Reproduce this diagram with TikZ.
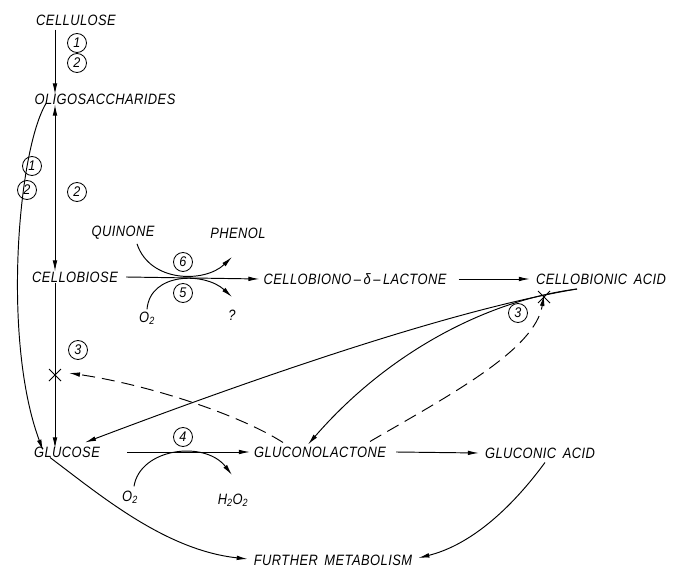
\documentclass[tikz,border=0pt]{standalone}
\usepackage{fontspec}
\setmainfont{Liberation Sans}
\newfontfamily\lettering{Liberation Sans}[FakeStretch=0.86, LetterSpace=3]
\newfontfamily\digits{Liberation Sans}[FakeStretch=0.9]
\usetikzlibrary{arrows.meta}
\begin{document}
\begin{tikzpicture}[x=1pt,y=-1pt,
  lbl/.style={font=\lettering\fontsize{15}{17}\selectfont\itshape, inner sep=2pt},
  num/.style={draw, circle, line width=0.8pt, minimum size=19pt, inner sep=0pt, font=\digits\fontsize{14}{14}\selectfont\itshape},
  ln/.style={line width=0.95pt},
  arr/.style={ln, -{Latex[length=11pt,width=4.6pt]}},
  darr/.style={ln, {Latex[length=11pt,width=4.6pt]}-{Latex[length=11pt,width=4.6pt]}},
  dsh/.style={arr, dash pattern=on 13pt off 7pt}]
\useasboundingbox (0,0) rectangle (681,567);
% nodes
\node[lbl] (cellulose) at (76,20) {CELLULOSE};
\node[lbl] (oligo) at (105,99) {OLIGOSACCHARIDES};
\node[lbl] (cellobiose) at (75,277) {CELLOBIOSE};
\node[lbl] (lactone) at (355,279) {CELLOBIONO\,–\,δ\,–\,LACTONE};
\node[lbl] (cbacid) at (601,279) {CELLOBIONIC\, ACID};
\node[lbl] (glucose) at (67,452) {GLUCOSE};
\node[lbl] (gluconolactone) at (320,452) {GLUCONOLACTONE};
\node[lbl] (gluconic) at (540,453) {GLUCONIC\, ACID};
\node[lbl] (further) at (333,560) {FURTHER\, METABOLISM};
\node[lbl] (quinone) at (123,233) {QUINONE};
\node[lbl] (phenol) at (238,233) {PHENOL};
\node[lbl] (oxa) at (147,318) {O\textsubscript{2}};
\node[lbl] (qm) at (232,315) {?};
\node[lbl] (oxb) at (130,497) {O\textsubscript{2}};
\node[lbl] (hp) at (233,500) {H\textsubscript{2}O\textsubscript{2}};
% numbered circles
\node[num] (n1a) at (77,43) {1};
\node[num] (n2a) at (77,63) {2};
\node[num] (n1b) at (32,166) {1};
\node[num] (n2b) at (27,190) {2};
\node[num] (n2c) at (77,192) {2};
\node[num] (n6) at (183,262) {6};
\node[num] (n5) at (183,293) {5};
\node[num] (n3a) at (78,350) {3};
\node[num] (n3b) at (518,313) {3};
\node[num] (n4) at (183,437) {4};
% coordinates
\coordinate (vx) at (55,0);
\coordinate (xa) at (55,375);
\coordinate (xb) at (544,297);
\coordinate (cbs) at (577,289);
% vertical chain
\draw[arr] (cellulose.south -| vx) ++(0,2) -- ([yshift=-3pt]oligo.north -| vx);
\draw[darr] ([yshift=2pt]oligo.south -| vx) -- ([yshift=-2pt]cellobiose.north -| vx);
\draw[arr] ([yshift=2pt]cellobiose.south -| vx) -- ([yshift=-4pt]glucose.north -| vx);
\draw[ln] ([shift={(-6,-6)}]xa) -- ([shift={(6,6)}]xa) ([shift={(-6,6)}]xa) -- ([shift={(6,-6)}]xa);
% left curve
\draw[arr] ([xshift=-9pt,yshift=3pt]oligo.south -| vx) .. controls (18,150) and (2,340) .. ([xshift=-12pt,yshift=-6pt]glucose.north -| vx);
% cellobiose -> lactone with side reactions
\draw[arr] (cellobiose.east) ++(6,0) -- ([xshift=-2pt]lactone.west);
\draw[arr] ([xshift=14pt,yshift=-2pt]quinone.south) .. controls (150,283) and (205,283) .. (232,257);
\draw[arr] (oxa.north) .. controls (150,272) and (205,272) .. (232,297);
% lactone -> cellobionic acid
\draw[arr] ([xshift=10pt]lactone.east) -- ([xshift=-4pt]cbacid.west);
% cellobionic acid branches
\draw[arr] (cbs) .. controls (450,310) and (250,380) .. ([xshift=18pt,yshift=2pt]glucose.north);
\draw[arr] (cbs) .. controls (490,300) and (390,350) .. ([xshift=-12pt,yshift=0pt]gluconolactone.north);
\draw[ln] ([shift={(-6,-6)}]xb) -- ([shift={(6,6)}]xb) ([shift={(-6,6)}]xb) -- ([shift={(6,-6)}]xb);
% dashed inhibitions
\draw[dsh] ([xshift=50pt,yshift=3pt]gluconolactone.north) .. controls (450,395) and (535,350) .. ([yshift=2pt]xb);
\draw[dsh] ([xshift=-37pt,yshift=2pt]gluconolactone.north) .. controls (240,415) and (150,385) .. ([xshift=14pt,yshift=2pt]xa);
% glucose -> gluconolactone
\draw[arr] ([xshift=25pt]glucose.east) -- ([xshift=-2pt]gluconolactone.west);
\draw[arr] ([xshift=4pt,yshift=2pt]oxb.north) .. controls (140,448) and (205,440) .. (232,475);
% gluconolactone -> gluconic
\draw[arr] ([xshift=8pt]gluconolactone.east) -- ([xshift=-4pt]gluconic.west);
% to further metabolism
\draw[arr] ([xshift=-17pt,yshift=2pt]glucose.south) .. controls (100,495) and (165,550) .. ([xshift=-4pt,yshift=1pt]further.west);
\draw[arr] ([xshift=5pt,yshift=-2pt]gluconic.south) .. controls (510,510) and (470,545) .. ([xshift=4pt,yshift=2pt]further.east);
\end{tikzpicture}
\end{document}
